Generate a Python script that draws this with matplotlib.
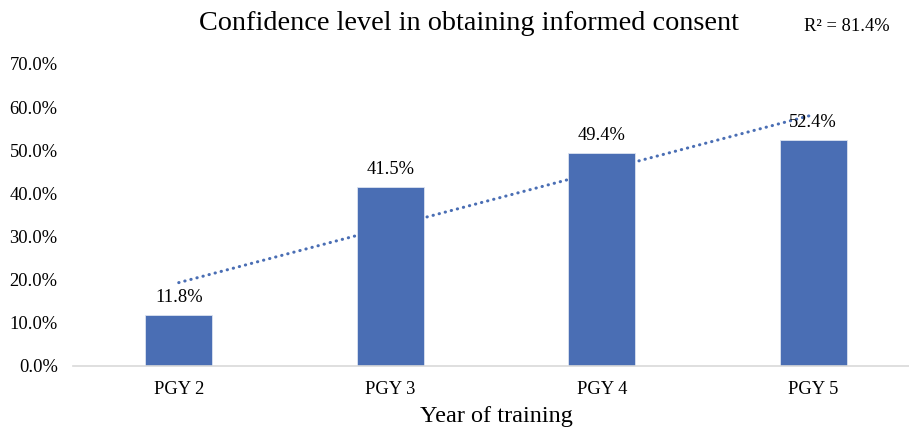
import numpy as np
import matplotlib
matplotlib.use("Agg")
import matplotlib.pyplot as plt

# chart data
years = ['PGY 2', 'PGY 3', 'PGY 4', 'PGY 5']
confidence = [11.8, 41.5, 49.4, 52.4]
yticks = [0, 10, 20, 30, 40, 50, 60, 70]

plt.rcParams['font.family'] = ['Liberation Serif', 'DejaVu Serif']

bar_color = '#4A6EB4'

fig = plt.figure(figsize=(9.09, 4.28), dpi=100)
ax = fig.add_axes([0.0803, 0.1449, 0.9306, 0.7056])

x = np.arange(len(years))

# linear trendline behind the bars
slope, intercept = np.polyfit(x, confidence, 1)
fit = slope * x + intercept
ss_res = np.sum((np.array(confidence) - fit) ** 2)
ss_tot = np.sum((np.array(confidence) - np.mean(confidence)) ** 2)
r2 = 1 - ss_res / ss_tot
ax.plot(x, fit, color=bar_color, lw=2.2, linestyle=(0, (0.1, 1.95)),
        dash_capstyle='round', zorder=1)

bars = ax.bar(x, confidence, width=0.317, color=bar_color,
              edgecolor='#DCE3F0', linewidth=0.6, zorder=2)

for xi, v in zip(x, confidence):
    ax.text(xi, v + 2.1, f'{v:.1f}%', ha='center', va='bottom', fontsize=13.3, zorder=3)

ax.set_xlim(-0.5, 3.5)
ax.set_ylim(0, 70)
ax.set_yticks(yticks)
ax.set_yticklabels([f'{t:.1f}%' for t in yticks], fontsize=13.3)
ax.set_xticks(x)
ax.set_xticklabels(years, fontsize=13.3)
ax.tick_params(axis='x', length=0, pad=11)
ax.tick_params(axis='y', length=0, pad=11)

for s in ['top', 'right', 'left']:
    ax.spines[s].set_visible(False)
ax.spines['bottom'].set_color('#D9D9D9')
ax.spines['bottom'].set_linewidth(1.2)

fig.text(0.546, 0.003, 'Year of training', ha='center', va='bottom', fontsize=17.5)

fig.text(0.516, 0.945, 'Confidence level in obtaining informed consent',
         ha='center', va='center', fontsize=20.3)
fig.text(0.932, 0.938, f'R² = {r2 * 100:.1f}%', ha='center', va='center', fontsize=13.3)

fig.savefig('out.png', dpi=100)
